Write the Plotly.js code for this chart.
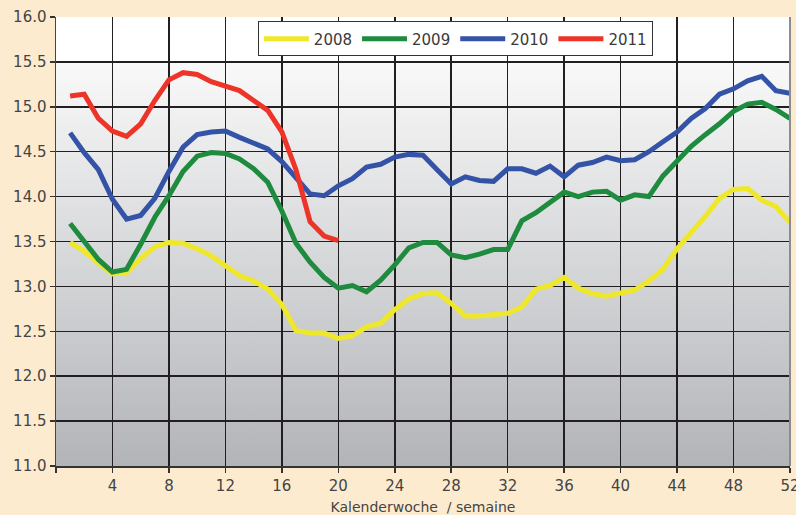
<!DOCTYPE html>
<html>
<head>
<meta charset="utf-8">
<script src="https://cdn.plot.ly/plotly-3.0.1.min.js"></script>
<style>
  html, body { margin: 0; padding: 0; background: #FDEBD0; }
  #chart { width: 796px; height: 515px; }
</style>
</head>
<body>
<div id="chart"></div>
<script>
// ---- data ----
const weeks = Array.from({length: 52}, (_, i) => i + 1);

const y2008 = [13.49, 13.39, 13.26, 13.14, 13.15, 13.31, 13.44, 13.49, 13.48, 13.42,
               13.34, 13.23, 13.12, 13.06, 12.97, 12.80, 12.51, 12.48, 12.48, 12.42,
               12.45, 12.55, 12.59, 12.74, 12.86, 12.92, 12.93, 12.81, 12.67, 12.67,
               12.69, 12.70, 12.77, 12.97, 13.01, 13.10, 12.98, 12.92, 12.89, 12.92,
               12.96, 13.06, 13.19, 13.42, 13.59, 13.78, 13.98, 14.08, 14.09, 13.96,
               13.89, 13.71];

const y2009 = [13.70, 13.49, 13.30, 13.16, 13.19, 13.47, 13.77, 14.01, 14.28, 14.45,
               14.49, 14.48, 14.42, 14.31, 14.16, 13.84, 13.48, 13.27, 13.10, 12.98,
               13.01, 12.94, 13.07, 13.24, 13.43, 13.49, 13.49, 13.35, 13.32, 13.36,
               13.41, 13.41, 13.73, 13.82, 13.94, 14.05, 14.00, 14.05, 14.06, 13.96,
               14.02, 14.00, 14.23, 14.40, 14.56, 14.69, 14.81, 14.95, 15.03, 15.05,
               14.97, 14.87];

const y2010 = [14.71, 14.49, 14.30, 13.97, 13.75, 13.79, 13.98, 14.28, 14.55, 14.69,
               14.72, 14.73, 14.66, 14.60, 14.53, 14.39, 14.20, 14.03, 14.01, 14.12,
               14.20, 14.33, 14.36, 14.44, 14.47, 14.46, 14.30, 14.14, 14.22, 14.18,
               14.17, 14.31, 14.31, 14.26, 14.34, 14.22, 14.35, 14.38, 14.44, 14.40,
               14.41, 14.50, 14.61, 14.72, 14.87, 14.98, 15.14, 15.20, 15.29, 15.34,
               15.18, 15.15];

const y2011 = [15.12, 15.14, 14.87, 14.73, 14.67, 14.81, 15.07, 15.30, 15.38, 15.36,
               15.28, 15.23, 15.18, 15.07, 14.96, 14.72, 14.30, 13.72, 13.56, 13.51];

const seriesNames = ['2008', '2009', '2010', '2011'];
const xTickVals = [0, 4, 8, 12, 16, 20, 24, 28, 32, 36, 40, 44, 48, 52];
const xTickText = ['', '4', '8', '12', '16', '20', '24', '28', '32', '36', '40', '44', '48', '52'];
const xTitle = 'Kalenderwoche  / semaine';

// ---- styles ----
const colors = ['#EFE72A', '#1E8B3E', '#3453A6', '#EE3428'];
const ys = [y2008, y2009, y2010, y2011];

const traces = ys.map((y, i) => ({
  type: 'scatter',
  mode: 'lines',
  name: seriesNames[i],
  x: weeks.slice(0, y.length),
  y: y,
  line: { color: colors[i], width: 5, shape: 'linear' },
  hoverinfo: 'x+y+name'
}));

// plot-area gradient background (white top -> grey bottom)
const svg = '<svg xmlns="http://www.w3.org/2000/svg" width="100" height="100" preserveAspectRatio="none" viewBox="0 0 100 100">' +
  '<defs><linearGradient id="g" x1="0" y1="0" x2="0" y2="1">' +
  '<stop offset="0" stop-color="#FFFFFF"/>' +
  '<stop offset="0.1" stop-color="#FFFFFF"/>' +
  '<stop offset="0.1" stop-color="#F9F9F9"/>' +
  '<stop offset="1" stop-color="#B2B4B8"/>' +
  '</linearGradient></defs><rect x="0" y="0" width="100" height="100" fill="url(#g)"/></svg>';
const bgSrc = 'data:image/svg+xml;charset=utf-8,' + encodeURIComponent(svg);

const fontFam = 'DejaVu Sans, sans-serif';

const layout = {
  width: 796,
  height: 515,
  margin: { l: 56, r: 6, t: 17, b: 49, pad: 0 },
  paper_bgcolor: '#FDEBD0',
  plot_bgcolor: 'rgba(0,0,0,0)',
  font: { family: fontFam, color: '#444444', size: 15 },
  showlegend: true,
  legend: {
    orientation: 'h',
    x: 0.275, xanchor: 'left',
    y: 0.99, yanchor: 'top',
    bgcolor: '#FFFFFF',
    bordercolor: '#333333',
    borderwidth: 1,
    font: { family: fontFam, size: 15, color: '#3a3a3a' },
    itemwidth: 45,
    tracegroupgap: 0
  },
  xaxis: {
    range: [0, 52],
    tickmode: 'array',
    tickvals: xTickVals,
    ticktext: xTickText,
    ticks: 'outside',
    ticklen: 5,
    tickwidth: 1.5,
    tickcolor: '#333333',
    ticklabeloverflow: 'allow',
    showgrid: true,
    gridcolor: '#231F20',
    gridwidth: 1.5,
    showline: true,
    linecolor: '#333333',
    linewidth: 1.5,
    zeroline: false,
    tickfont: { family: fontFam, size: 15, color: '#444444' },
    title: { text: xTitle, font: { family: fontFam, size: 14, color: '#444444' }, standoff: 9 },
    fixedrange: true
  },
  yaxis: {
    range: [11, 16],
    dtick: 0.5,
    tick0: 11,
    tickformat: '.1f',
    ticks: 'outside',
    ticklen: 5,
    tickwidth: 1.5,
    tickcolor: '#333333',
    showgrid: true,
    gridcolor: '#231F20',
    gridwidth: 1.5,
    showline: true,
    linecolor: '#444444',
    linewidth: 1.5,
    zeroline: false,
    tickfont: { family: fontFam, size: 15, color: '#444444' },
    fixedrange: true
  },
  images: [{
    source: bgSrc,
    xref: 'paper', yref: 'paper',
    x: 0, y: 1, sizex: 1, sizey: 1,
    xanchor: 'left', yanchor: 'top',
    sizing: 'stretch',
    layer: 'below'
  }],
  shapes: [{
    type: 'line', xref: 'paper', yref: 'paper',
    x0: 1, x1: 1, y0: 0, y1: 1,
    line: { color: '#8C8C8C', width: 2 },
    layer: 'above'
  }]
};

Plotly.newPlot('chart', traces, layout, { displayModeBar: false, staticPlot: true });
</script>
</body>
</html>
